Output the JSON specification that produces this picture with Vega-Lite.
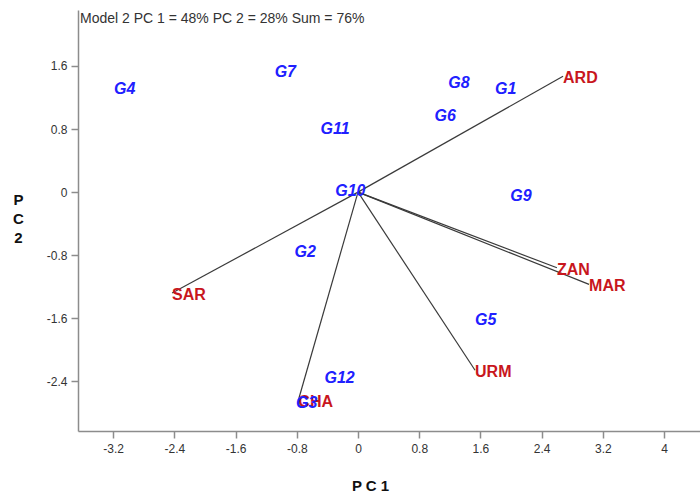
{
  "$schema": "https://vega.github.io/schema/vega-lite/v6.json",
  "width": 622,
  "height": 421,
  "autosize": {"type": "none"},
  "padding": {"left": 78, "top": 10, "right": 0, "bottom": 65},
  "background": "white",
  "config": {"view": {"stroke": null}, "font": "Liberation Sans"},
  "title": {
    "text": "Model 2 PC 1 = 48% PC 2 = 28% Sum = 76%",
    "anchor": "start",
    "frame": "group",
    "offset": -16,
    "dx": 2,
    "font": "Liberation Sans",
    "fontSize": 14,
    "fontWeight": "normal",
    "color": "#333333"
  },
  "datasets": {
    "genotypes": [
      {"name": "G1", "pc1": 1.93, "pc2": 1.31},
      {"name": "G2", "pc1": -0.69, "pc2": -0.76},
      {"name": "G3", "pc1": -0.67, "pc2": -2.68},
      {"name": "G4", "pc1": -3.05, "pc2": 1.31},
      {"name": "G5", "pc1": 1.67, "pc2": -1.62},
      {"name": "G6", "pc1": 1.14, "pc2": 0.96},
      {"name": "G7", "pc1": -0.95, "pc2": 1.52},
      {"name": "G8", "pc1": 1.32, "pc2": 1.39},
      {"name": "G9", "pc1": 2.13, "pc2": -0.05},
      {"name": "G10", "pc1": -0.1, "pc2": 0.01},
      {"name": "G11", "pc1": -0.3, "pc2": 0.8},
      {"name": "G12", "pc1": -0.24, "pc2": -2.36}
    ],
    "environments": [
      {"name": "ARD", "pc1": 2.68, "pc2": 1.47},
      {"name": "ZAN", "pc1": 2.6, "pc2": -0.96},
      {"name": "MAR", "pc1": 3.02, "pc2": -1.17},
      {"name": "URM", "pc1": 1.53, "pc2": -2.26},
      {"name": "SAR", "pc1": -2.43, "pc2": -1.28},
      {"name": "CHA", "pc1": -0.78, "pc2": -2.64}
    ]
  },
  "encoding": {
    "x": {
      "field": "pc1", "type": "quantitative",
      "scale": {"domain": [-3.66, 4.47], "nice": false, "zero": false},
      "axis": {
        "values": [-3.2, -2.4, -1.6, -0.8, 0, 0.8, 1.6, 2.4, 3.2, 4],
        "labelExpr": "replace(format(datum.value, '.1~f'), '\u2212', '-')",
        "grid": false,
        "domainColor": "#8c8c8c", "domainWidth": 1.5,
        "tickColor": "#8c8c8c", "tickSize": 7, "tickWidth": 1.5,
        "labelColor": "#333333", "labelFontSize": 12, "labelFont": "Liberation Sans", "labelPadding": 5,
        "title": "P C 1", "titleFont": "Liberation Sans", "titleFontSize": 15, "titleFontWeight": "bold", "titleColor": "#111111",
        "titleX": 292, "titleY": 54, "titleBaseline": "middle", "titleAnchor": "middle"
      }
    },
    "y": {
      "field": "pc2", "type": "quantitative",
      "scale": {"domain": [-3.03, 2.31], "nice": false, "zero": false},
      "axis": {
        "values": [-2.4, -1.6, -0.8, 0, 0.8, 1.6],
        "labelExpr": "replace(format(datum.value, '.1~f'), '\u2212', '-')",
        "grid": false,
        "domainColor": "#8c8c8c", "domainWidth": 1.5,
        "tickColor": "#8c8c8c", "tickSize": 7, "tickWidth": 1.5,
        "labelColor": "#333333", "labelFontSize": 12, "labelFont": "Liberation Sans", "labelPadding": 4,
        "title": ["P", "C", "2"], "titleAngle": 0, "titleFont": "Liberation Sans", "titleFontSize": 15, "titleFontWeight": "bold", "titleColor": "#111111",
        "titleLineHeight": 19,
        "titleX": -60, "titleY": 194, "titleBaseline": "alphabetic", "titleAlign": "center"
      }
    }
  },
  "layer": [
    {
      "mark": {"type": "rule", "color": "#8c8c8c", "strokeWidth": 2},
      "encoding": {"x": null, "y": {"datum": 2.31}}
    },
    {
      "mark": {"type": "rule", "color": "#111111", "strokeWidth": 1.5},
      "encoding": {"x": {"datum": 0}, "y": null}
    },
    {
      "mark": {"type": "rule", "color": "#111111", "strokeWidth": 1.5},
      "encoding": {"x": null, "y": {"datum": 0}}
    },
    {
      "data": {"name": "environments"},
      "mark": {"type": "rule", "color": "#3a3a3a", "strokeWidth": 1.2},
      "encoding": {
        "x2": {"datum": 0},
        "y2": {"datum": 0}
      }
    },
    {
      "data": {"name": "environments"},
      "mark": {"type": "text", "font": "Liberation Sans", "fontSize": 16, "fontWeight": "bold", "fill": "#c8161d", "align": "left", "baseline": "middle", "dy": 2},
      "encoding": {
        "text": {"field": "name"}
      }
    },
    {
      "data": {"name": "genotypes"},
      "mark": {"type": "text", "font": "Liberation Sans", "fontSize": 16, "fontWeight": "bold", "fontStyle": "italic", "fill": "#2020ff", "align": "center", "baseline": "middle"},
      "encoding": {
        "text": {"field": "name"}
      }
    }
  ]
}
